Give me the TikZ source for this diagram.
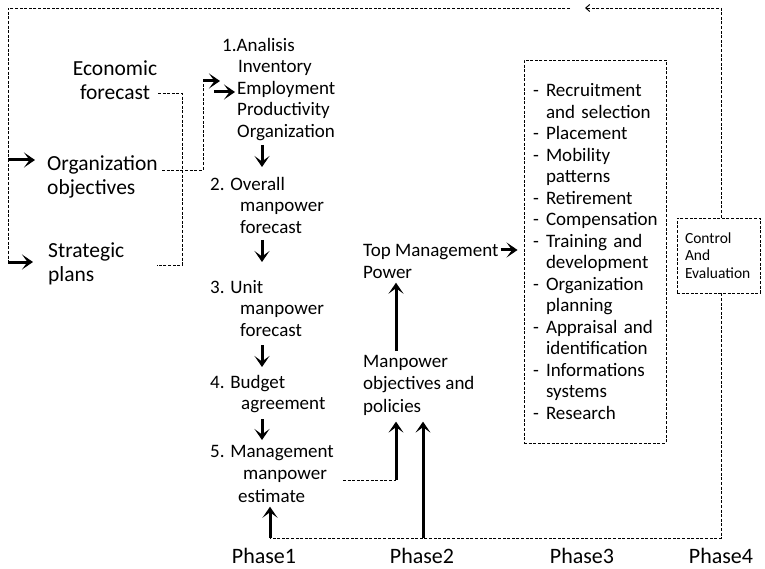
\documentclass[tikz,border=0pt]{standalone}
\usepackage{fontspec}
\setmainfont{Carlito}
\usetikzlibrary{arrows.meta,calc}
\newcommand\hrdash[1]{\makebox[13pt][l]{-}\mbox{#1}}
\newcommand\hrcont[1]{\hspace*{13pt}\mbox{#1}}
\tikzset{
  txt/.style={inner sep=0pt, align=left, anchor=north west, font=\fontsize{19}{21.5}\selectfont},
  txtL/.style={txt, font=\fontsize{21.5}{24}\selectfont},
  dl/.style={line width=0.9pt, dash pattern=on 3pt off 1.6pt},
  arr/.style={line width=3pt, -{Stealth[length=11pt,width=15pt,inset=5.5pt]}},
  phase/.style={font=\fontsize{22}{24}\selectfont, inner sep=0pt}}
\begin{document}
\begin{tikzpicture}[x=1pt,y=-1pt]
\useasboundingbox (0,0) rectangle (765,569);
% left column
\node[txtL, anchor=north, align=center] (econ) at (115,61) {Economic\\forecast};
\node[txtL] (orgobj) at (47,155) {Organization\\objectives};
\node[txtL] (strat) at (48,243) {Strategic\\plans};
% phase 1
\node[txt] (s1) at (222,38) {1.Analisis\\\hspace*{16pt}Inventory\\\hspace*{15pt}Employment\\\hspace*{15pt}Productivity\\\hspace*{15pt}Organization};
\node[txt] (s2) at (210,177) {2. Overall\\\hspace*{30pt}manpower\\\hspace*{30pt}forecast};
\node[txt] (s3) at (210,280) {3. Unit\\\hspace*{30pt}manpower\\\hspace*{30pt}forecast};
\node[txt] (s4) at (210,375) {4. Budget\\\hspace*{31pt}agreement};
\node[txt, font=\fontsize{19}{22.5}\selectfont] (s5) at (210,445) {5. Management\\\hspace*{33pt}manpower\\\hspace*{28pt}estimate};
% phase 2
\node[txt, font=\fontsize{19}{22}\selectfont] (topm) at (363,244) {Top Management\\Power};
\node[txt, font=\fontsize{19}{22.5}\selectfont] (mobj) at (363,355) {Manpower\\objectives and\\policies};
% phase 3 box
\node[draw, dl, align=left, text width=124pt, inner xsep=9pt, inner ysep=0pt,
  minimum height=383pt, font=\fontsize{19}{21.5}\selectfont] (hr) at (595,251.5)
  {\hrdash{Recruitment}\\\hrcont{and selection}\\\hrdash{Placement}\\\hrdash{Mobility}\\\hrcont{patterns}\\
   \hrdash{Retirement}\\\hrdash{Compensation}\\\hrdash{Training and}\\\hrcont{development}\\
   \hrdash{Organization}\\\hrcont{planning}\\\hrdash{Appraisal and}\\\hrcont{identification}\\
   \hrdash{Informations}\\\hrcont{systems}\\\hrdash{Research}};
% phase 4 box
\node[draw, dl, align=left, text width=67pt, inner xsep=8pt, minimum height=75pt,
  font=\fontsize{15.5}{17.5}\selectfont] (ctrl) at (718.5,255.5) {Control\\And\\Evaluation};
% phase labels
\node[phase] (p1) at (264,556) {Phase1};
\node[phase] (p2) at (422,556) {Phase2};
\node[phase] (p3) at (582,556) {Phase3};
\node[phase] (p4) at (721,556) {Phase4};
% coordinates
\coordinate (tr) at (721,8);
\coordinate (tl) at (8,8);
\coordinate (gapR) at (585,8);
\coordinate (gapL) at (570,8);
\coordinate (lm) at (8,160);
\coordinate (lb) at (8,262);
\coordinate (br) at (721,538);
\coordinate (ef) at (158,93);
\coordinate (sp) at (157,265);
\coordinate (jx) at (182,0);
\coordinate (oo) at (162,170);
\coordinate (oc) at (203,170);
\coordinate (oa) at (203,81);
\coordinate (e1) at (214,92);
\coordinate (ax) at (262,0);
\coordinate (m5) at (343,480);
\coordinate (mx) at (396,480);
\coordinate (lx) at (423,0);
\coordinate (px) at (270,0);
% feedback loop
\draw[dl, -{Straight Barb[length=4pt,width=7pt,line width=1pt]}] (ctrl.north -| tr) -- (tr) -- (gapR);
\draw[dl] (gapL) -- (tl) -- (lb);
\draw[arr] (lm) -- ([xshift=-12pt]orgobj.west |- lm);
\draw[arr] (lb) -- ([xshift=-15pt]strat.west |- lb);
\draw[dl] (ctrl.south -| br) -- (br) -- (br -| px);
% inputs
\draw[dl] (ef) -- (ef -| jx) -- (sp -| jx) -- (sp);
\draw[dl] (oo) -- (oc) -- (oa);
\draw[arr] (oa) -- ([xshift=-2pt]s1.west |- oa);
\draw[arr] (e1) -- ([xshift=13pt]s1.west |- e1);
% phase 1 chain
\draw[arr] (ax |- 0,145) -- (ax |- 0,167);
\draw[arr] (ax |- 0,240) -- (ax |- 0,262);
\draw[arr] (ax |- 0,345) -- (ax |- 0,367);
\draw[arr] (ax |- 0,419) -- (ax |- 0,440);
\draw[arr] (br -| px) -- ([yshift=-4pt]s5.south -| px);
% phase 2
\draw[dl] (m5) -- (mx);
\draw[arr] (mx) -- ([yshift=-6pt]mobj.south -| mx);
\draw[arr] (br -| lx) -- ([yshift=-6pt]mobj.south -| lx);
\draw[arr] ([yshift=4pt]mobj.north -| mx) -- ([yshift=-4pt]topm.south -| mx);
\draw[arr] ([xshift=2pt]topm.north east |- 0,250) -- ([xshift=-6pt]hr.west |- 0,250);
\end{tikzpicture}
\end{document}
